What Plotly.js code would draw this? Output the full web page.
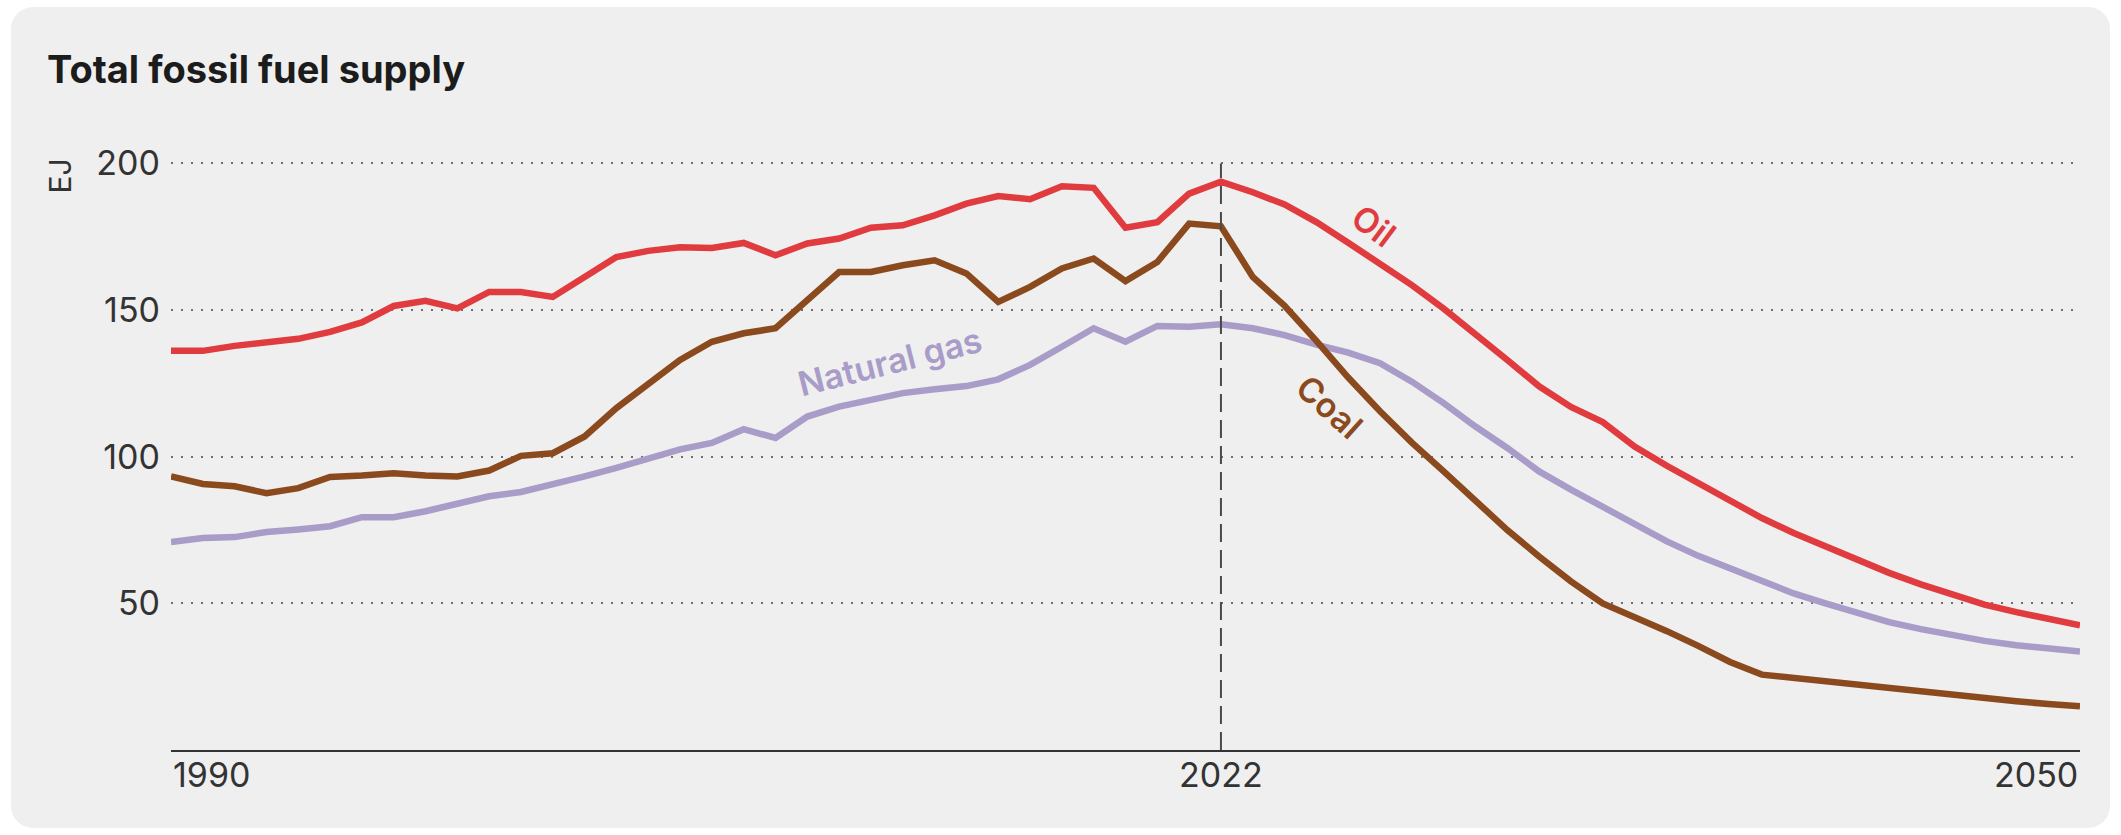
<!DOCTYPE html>
<html>
<head>
<meta charset="utf-8">
<script src="https://cdn.plot.ly/plotly-3.0.1.min.js"></script>
<style>
  html, body { margin: 0; padding: 0; background: #ffffff; }
  #card { position: absolute; left: 11px; top: 7px; width: 2099px; height: 821px;
          background: #efefef; border-radius: 22px; }
  #chart { position: absolute; left: 0; top: 0; width: 2121px; height: 835px; }
</style>
</head>
<body>
<div id="card"></div>
<div id="chart"></div>
<script>
// ---- data (EJ) ----
const years = [1990,1991,1992,1993,1994,1995,1996,1997,1998,1999,
               2000,2001,2002,2003,2004,2005,2006,2007,2008,2009,
               2010,2011,2012,2013,2014,2015,2016,2017,2018,2019,
               2020,2021,2022,2023,2024,2025,2026,2027,2028,2029,
               2030,2031,2032,2033,2034,2035,2036,2037,2038,2039,
               2040,2041,2042,2043,2044,2045,2046,2047,2048,2049,2050];

const oil = [136.1,136.1,137.8,139.0,140.2,142.6,145.8,151.4,153.2,150.6,
             156.2,156.2,154.5,161.3,168.1,170.2,171.4,171.2,172.9,168.7,
             172.7,174.4,178.1,178.9,182.3,186.3,188.9,187.8,192.2,191.7,
             178.1,180.0,189.7,193.8,190.2,186.0,180.0,173.0,166.0,158.5,
             150.5,142.0,133.0,124.0,117.0,111.8,103.5,97.0,91.0,85.4,
             79.1,74.0,69.5,65.0,60.4,56.5,52.8,49.6,47.0,44.8,42.5];

const coal = [93.3,90.7,89.9,87.6,89.3,93.1,93.6,94.4,93.6,93.3,
              95.3,100.3,101.2,106.9,116.6,125.0,133.0,139.2,142.1,143.8,
              153.4,163.0,163.0,165.3,167.0,162.5,152.8,157.9,164.2,167.6,
              159.9,166.4,179.5,178.6,161.3,151.5,139.5,127.0,115.5,104.8,
              95.0,85.0,75.0,66.0,57.5,50.0,45.5,40.6,35.5,30.0,
              25.7,24.5,23.5,22.4,21.0,19.7,18.5,17.6,16.6,15.7,14.9];

const gas = [70.9,72.3,72.6,74.3,75.2,76.3,79.4,79.4,81.4,83.9,
             86.5,88.0,90.5,93.3,96.2,99.2,102.5,104.7,109.4,106.4,
             113.7,117.1,119.6,121.7,123.0,124.1,126.4,131.3,137.5,143.8,
             139.2,144.6,144.3,145.2,143.8,141.5,138.2,135.5,131.9,125.6,
             118.3,110.3,103.0,95.0,88.8,82.8,76.8,71.2,66.2,62.1,
             57.6,53.4,50.0,46.8,43.6,41.2,39.1,37.2,35.7,34.6,33.6];

const yTicks = [50, 100, 150, 200];
const markerYear = 2023;       // position of the dashed divider
const xLabelYears = [1990, 2023, 2050];
const xLabelTexts = ['1990', '2022', '2050'];
const xLabelAnchors = ['left', 'center', 'right'];

const C_OIL = '#e03c3f', C_COAL = '#8b4a1e', C_GAS = '#a99cc9';
const FONT = 'Inter, "Liberation Sans", Arial, sans-serif';

const traces = [
  {x: years, y: gas,  name: 'Natural gas', mode: 'lines', line: {color: C_GAS,  width: 6.5}},
  {x: years, y: coal, name: 'Coal',        mode: 'lines', line: {color: C_COAL, width: 6.5}},
  {x: years, y: oil,  name: 'Oil',         mode: 'lines', line: {color: C_OIL,  width: 6.5}}
];

const annotations = [
  {text: 'EJ', xref: 'paper', yref: 'paper', x: (60.5-171)/1909, y: 1 - (177-163)/587,
   textangle: -90, showarrow: false, xanchor: 'center', yanchor: 'middle',
   font: {family: FONT, size: 30, color: '#333'}},
  {text: 'Oil', xref: 'x', yref: 'y', x: 2027.8, y: 178.9, textangle: 37, showarrow: false,
   xanchor: 'center', yanchor: 'middle', font: {family: FONT, size: 34, weight: 600, color: C_OIL}},
  {text: 'Coal', xref: 'x', yref: 'y', x: 2026.4, y: 117, textangle: 42, showarrow: false,
   xanchor: 'center', yanchor: 'middle', font: {family: FONT, size: 34, weight: 600, color: C_COAL}},
  {text: 'Natural gas', xref: 'x', yref: 'y', x: 2012.6, y: 132.4, textangle: -14, showarrow: false,
   xanchor: 'center', yanchor: 'middle', font: {family: FONT, size: 34, weight: 600, color: C_GAS}}
];
xLabelYears.forEach((yr, i) => annotations.push({
  text: xLabelTexts[i], xref: 'x', yref: 'paper', x: yr, y: 0,
  xanchor: xLabelAnchors[i], yanchor: 'middle', yshift: -24, showarrow: false,
  font: {family: FONT, size: 34, color: '#333'}
}));

const layout = {
  width: 2121, height: 835,
  margin: {l: 171, r: 41, t: 161.5, b: 85, pad: 0},
  paper_bgcolor: 'rgba(0,0,0,0)',
  plot_bgcolor: 'rgba(0,0,0,0)',
  showlegend: false,
  font: {family: FONT, color: '#333'},
  title: {
    text: 'Total fossil fuel supply',
    font: {family: FONT, size: 38, weight: 700, color: '#1c1c1c'},
    xref: 'container', x: 47/2121, xanchor: 'left',
    yref: 'container', y: 1 - 70/835, yanchor: 'middle'
  },
  xaxis: {
    range: [1990, 2050],
    showgrid: false, zeroline: false,
    showline: true, linecolor: '#333', linewidth: 2,
    tickvals: xLabelYears, showticklabels: false, ticks: '',
    fixedrange: true
  },
  yaxis: {
    range: [0, 200.5],
    tickvals: yTicks,
    showgrid: true, gridcolor: '#6f6f6f', gridwidth: 2, griddash: '2px,8px',
    zeroline: false, showline: false,
    ticks: '', ticklabelstandoff: 10,
    tickfont: {family: FONT, size: 34, color: '#333'},
    fixedrange: true
  },
  shapes: [{
    type: 'line', xref: 'x', yref: 'y',
    x0: markerYear, x1: markerYear, y0: 0, y1: 200,
    line: {color: '#4a4a4a', width: 2, dash: '18px,8px'}
  }],
  annotations: annotations
};

Plotly.newPlot('chart', traces, layout, {displayModeBar: false, staticPlot: true});
</script>
</body>
</html>
